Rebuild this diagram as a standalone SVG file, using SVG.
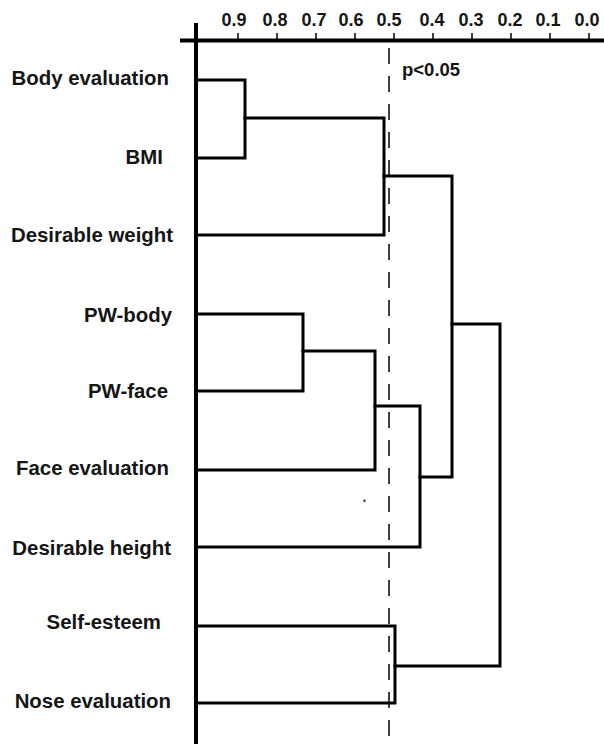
<svg xmlns="http://www.w3.org/2000/svg" width="604" height="744" viewBox="0 0 604 744">
<style>
.lbl{font-family:"Liberation Sans",Arial,sans-serif;font-weight:bold;font-size:20.4px;fill:#151515;text-anchor:end}
.tick{font-family:"Liberation Sans",Arial,sans-serif;font-weight:bold;font-size:18px;fill:#151515;text-anchor:middle}
.note{font-family:"Liberation Sans",Arial,sans-serif;font-weight:bold;font-size:18.5px;fill:#151515}
.link{fill:none;stroke:#000;stroke-width:3;stroke-linejoin:miter;stroke-linecap:square}
.axis{fill:none;stroke:#000;stroke-width:4}
.tk{stroke:#000;stroke-width:1.5}
</style>
<rect width="604" height="744" fill="#fff"/>
<g id="axis">
<line class="axis" x1="180" y1="40.5" x2="604" y2="40.5"/>
<line class="axis" x1="196" y1="23" x2="196" y2="744"/>
<g class="tk">
<line x1="238" y1="33" x2="238" y2="40"/><line x1="277" y1="33" x2="277" y2="40"/><line x1="316" y1="33" x2="316" y2="40"/><line x1="355" y1="33" x2="355" y2="40"/><line x1="394" y1="33" x2="394" y2="40"/><line x1="433" y1="33" x2="433" y2="40"/><line x1="472" y1="33" x2="472" y2="40"/><line x1="511" y1="33" x2="511" y2="40"/><line x1="550" y1="33" x2="550" y2="40"/><line x1="589" y1="33" x2="589" y2="40"/>
</g>
<text class="tick" x="234" y="26">0.9</text><text class="tick" x="275" y="26">0.8</text><text class="tick" x="314" y="26">0.7</text><text class="tick" x="351" y="26">0.6</text><text class="tick" x="389" y="26">0.5</text><text class="tick" x="432" y="26">0.4</text><text class="tick" x="471" y="26">0.3</text><text class="tick" x="510" y="26">0.2</text><text class="tick" x="548" y="26">0.1</text><text class="tick" x="587" y="26">0.0</text>
</g>
<g id="threshold">
<line x1="389" y1="48" x2="389" y2="744" stroke="#000" stroke-width="1.5" stroke-dasharray="16 12"/>
<text class="note" x="402" y="76">p&lt;0.05</text>
</g>
<g id="connectors">
<path class="link" d="M196,80 H245 V158 H196"/>
<path class="link" d="M245,118 H384 V235 H196"/>
<path class="link" d="M384,176 H452 V477 H420"/>
<path class="link" d="M196,314 H303 V391 H196"/>
<path class="link" d="M303,351 H375 V470 H196"/>
<path class="link" d="M375,406 H420 V547 H196"/>
<path class="link" d="M452,324 H500 V666 H395"/>
<path class="link" d="M196,626 H395 V703 H196"/>
</g>
<g id="node-body-evaluation"><text class="lbl" x="169" y="85">Body evaluation</text></g>
<g id="node-bmi"><text class="lbl" x="163" y="164">BMI</text></g>
<g id="node-desirable-weight"><text class="lbl" x="173" y="242">Desirable weight</text></g>
<g id="node-pw-body"><text class="lbl" x="172" y="322">PW-body</text></g>
<g id="node-pw-face"><text class="lbl" x="168" y="398">PW-face</text></g>
<g id="node-face-evaluation"><text class="lbl" x="169" y="475">Face evaluation</text></g>
<g id="node-desirable-height"><text class="lbl" x="171" y="555">Desirable height</text></g>
<g id="node-self-esteem"><text class="lbl" x="161" y="629">Self-esteem</text></g>
<g id="node-nose-evaluation"><text class="lbl" x="171" y="708">Nose evaluation</text></g>
<rect x="363.5" y="499.5" width="2" height="2.5" fill="#333"/>
</svg>
